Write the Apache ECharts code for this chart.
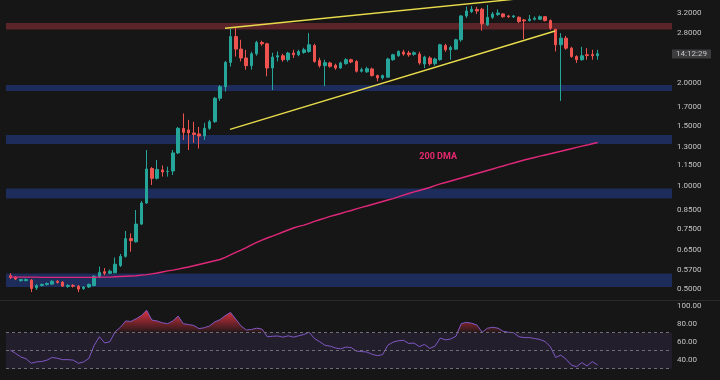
<!DOCTYPE html>
<html><head><meta charset="utf-8">
<script src="https://cdn.jsdelivr.net/npm/echarts@6/dist/echarts.min.js"></script>
<style>html,body{margin:0;padding:0;background:#161616;}#c{width:720px;height:380px;}</style>
</head><body><div id="c"></div>
<script>
// ---- Data (daily candles, log price scale) ----
const opens = [
0.547,0.542,0.529,0.529,0.531,0.504,0.512,0.516,0.517,0.527,
0.524,0.509,0.512,0.510,0.502,0.507,0.512,0.544,0.562,0.556,
0.558,0.586,0.623,0.702,0.687,0.774,0.892,1.125,1.053,1.114,
1.101,1.106,1.249,1.472,1.458,1.429,1.419,1.400,1.474,1.541,
1.804,1.949,2.296,2.732,2.511,2.365,2.246,2.433,2.625,2.602,
2.211,2.380,2.401,2.338,2.445,2.417,2.455,2.471,2.573,2.327,
2.246,2.287,2.251,2.211,2.276,2.338,2.311,2.164,2.155,2.197,
2.101,2.069,2.078,2.338,2.401,2.461,2.445,2.425,2.428,2.272,
2.365,2.276,2.338,2.573,2.499,2.510,2.673,3.138,3.230,3.278,
3.283,2.955,3.110,3.169,3.180,3.138,3.118,3.110,3.055,3.041,
3.069,3.069,3.122,3.041,2.870,2.585,2.703,2.527,2.389,2.338,
2.417,2.422,2.401];
const closes = [
0.540,0.535,0.533,0.533,0.502,0.512,0.516,0.519,0.527,0.523,
0.510,0.512,0.510,0.500,0.507,0.516,0.545,0.560,0.556,0.564,
0.591,0.623,0.702,0.692,0.774,0.892,1.121,1.053,1.118,1.099,
1.104,1.249,1.474,1.433,1.429,1.414,1.400,1.474,1.541,1.804,
1.949,2.296,2.732,2.511,2.365,2.246,2.433,2.625,2.602,2.211,
2.380,2.401,2.338,2.445,2.417,2.471,2.499,2.585,2.311,2.246,
2.292,2.236,2.211,2.287,2.338,2.302,2.164,2.186,2.201,2.101,
2.069,2.101,2.349,2.417,2.471,2.428,2.417,2.450,2.287,2.380,
2.276,2.349,2.585,2.499,2.538,2.673,3.138,3.245,3.283,3.245,
2.975,3.110,3.180,3.200,3.122,3.122,3.138,3.020,3.035,3.069,
3.090,3.122,3.041,2.890,2.585,2.703,2.527,2.389,2.338,2.401,
2.406,2.401,2.433];
const lows = [
0.535,0.531,0.526,0.527,0.490,0.497,0.509,0.512,0.514,0.519,
0.507,0.504,0.505,0.490,0.497,0.504,0.509,0.538,0.549,0.553,
0.556,0.580,0.618,0.643,0.684,0.769,0.886,1.007,1.045,1.065,
1.065,1.077,1.240,1.363,1.274,1.336,1.287,1.363,1.458,1.529,
1.772,1.887,2.233,2.389,2.311,2.186,2.186,2.401,2.568,2.091,
1.907,2.311,2.307,2.307,2.365,2.393,2.433,2.450,2.291,2.216,
1.959,2.216,2.186,2.201,2.261,2.284,2.146,2.146,2.139,2.087,
2.021,2.045,2.073,2.322,2.385,2.401,2.385,2.401,2.261,2.211,
2.246,2.246,2.322,2.466,2.338,2.499,2.637,3.097,3.200,3.180,
2.843,2.935,3.076,3.138,3.097,3.097,3.097,2.994,2.685,3.024,
3.045,3.055,3.024,2.857,2.471,1.772,2.499,2.369,2.287,2.322,
2.338,2.338,2.338];
const highs = [
0.556,0.545,0.535,0.537,0.535,0.517,0.519,0.523,0.531,0.531,
0.527,0.517,0.517,0.514,0.510,0.519,0.549,0.582,0.576,0.570,
0.618,0.633,0.739,0.727,0.851,0.904,1.274,1.136,1.191,1.148,
1.139,1.274,1.487,1.629,1.560,1.539,1.487,1.529,1.560,1.820,
1.972,2.319,2.875,2.889,2.673,2.499,2.466,2.655,2.655,2.620,
2.450,2.471,2.433,2.466,2.499,2.499,2.533,2.795,2.602,2.369,
2.338,2.307,2.276,2.307,2.362,2.354,2.330,2.216,2.231,2.216,
2.115,2.115,2.369,2.433,2.491,2.499,2.482,2.474,2.466,2.401,
2.393,2.369,2.602,2.602,2.568,2.691,3.159,3.341,3.355,3.334,
3.312,3.378,3.223,3.278,3.200,3.159,3.159,3.128,3.076,3.159,
3.128,3.148,3.138,3.065,2.875,2.795,2.745,2.550,2.409,2.550,
2.527,2.499,2.499];
const dma200 = [
0.542,0.542,0.542,0.542,0.542,0.542,0.541,0.541,0.541,0.541,
0.541,0.541,0.541,0.541,0.541,0.541,0.541,0.542,0.542,0.542,
0.543,0.544,0.545,0.546,0.547,0.549,0.551,0.554,0.557,0.561,
0.565,0.568,0.572,0.576,0.580,0.585,0.590,0.595,0.600,0.605,
0.610,0.619,0.629,0.640,0.650,0.661,0.673,0.684,0.695,0.705,
0.714,0.724,0.734,0.744,0.754,0.762,0.769,0.778,0.788,0.797,
0.806,0.815,0.823,0.831,0.840,0.848,0.857,0.866,0.874,0.883,
0.892,0.901,0.910,0.919,0.929,0.940,0.951,0.961,0.970,0.980,
0.990,1.002,1.014,1.024,1.034,1.045,1.055,1.066,1.077,1.088,
1.099,1.110,1.121,1.133,1.144,1.156,1.167,1.179,1.191,1.201,
1.211,1.222,1.232,1.242,1.253,1.263,1.274,1.285,1.296,1.307,
1.317,1.329,1.340];
const rsi = [
50.5,47,43,41,36,37.5,38,39.5,42.5,41.5,
40,40,39.5,36,37.5,41.5,56,65.5,58.5,60,
71,76,83,82.5,85.5,89,95,84,83,81,
80,83,88.5,80,79,78,74.5,75.5,77.5,82,
84.5,89,92.5,85,77.5,73,73.5,75,74,65.5,
66,66.3,65,66.5,65,66.5,68,70.5,63.5,60,
56,55,53,52,54,53.5,49.5,49,48.5,46,
44.5,45.5,56,59.5,61,61.5,58,58.5,54.5,57,
52.5,55,64,62,63,66,80,81.5,80.5,78.5,
70.5,75,76,75,71.5,70.5,70,65.5,64.5,64.5,
63.5,62.5,60,54.5,42.5,45,40.5,34,32.2,36.7,
33,37.8,34.1];
const priceTicks = [3.2, 2.8, 2.0, 1.7, 1.5, 1.3, 1.15, 1.0, 0.85, 0.75, 0.65, 0.57, 0.5];
const rsiTicks = [40, 60, 80, 100];
const rsiLevels = [70, 50, 30];
const redZones = [[2.865, 2.99]];
const blueZones = [[1.894, 1.972], [1.326, 1.41], [0.919, 0.983], [0.507, 0.555]];
const upperTrend = [[40.95, 2.888], [100, 3.56]];
const lowerTrend = [[41.9, 1.464], [103.9, 2.836]];
const dmaLabelPoint = [81.6, 1.215];
const dmaLabel = '200 DMA';
const countdown = '14:12:29';

// ---- Layout / style ----
const UP = '#26a69a', DOWN = '#ef5350';
const GL = 6, GR = 48, PRICE_H = 300, RSI_TOP = 301;
const XMIN = -0.82, XMAX = 126.2;
const FONT = 'Roboto, "Liberation Sans", sans-serif';

const candleData = opens.map((o, i) => [i, o, closes[i], lows[i], highs[i]]);
const zoneAreas = redZones.map(z => [{ yAxis: z[0], itemStyle: { color: '#5a2428' } }, { yAxis: z[1] }])
  .concat(blueZones.map(z => [{ yAxis: z[0], itemStyle: { color: '#1d2c5a' } }, { yAxis: z[1] }]));

const chart = echarts.init(document.getElementById('c'), null, { renderer: 'canvas' });
chart.setOption({
  animation: false,
  backgroundColor: '#161616',
  textStyle: { fontFamily: FONT },
  grid: [
    { left: GL, right: GR, top: 0, height: PRICE_H, outerBoundsMode: 'none' },
    { left: GL, right: GR, top: RSI_TOP, bottom: 0, outerBoundsMode: 'none' }
  ],
  xAxis: [
    { type: 'value', gridIndex: 0, min: XMIN, max: XMAX, show: false },
    { type: 'value', gridIndex: 1, min: XMIN, max: XMAX, show: false }
  ],
  yAxis: [
    { type: 'log', gridIndex: 0, position: 'right', min: 0.4646, max: 3.493,
      axisLine: { show: false }, axisTick: { show: false }, splitLine: { show: false },
      axisLabel: { customValues: priceTicks, formatter: v => Number(v).toFixed(4),
        color: '#c4c4c4', fontSize: 8, margin: 5 } },
    { type: 'value', gridIndex: 1, position: 'right', min: 17.4, max: 105.2,
      axisLine: { show: false }, axisTick: { show: false }, splitLine: { show: false },
      axisLabel: { customValues: rsiTicks, formatter: v => Number(v).toFixed(2),
        color: '#c4c4c4', fontSize: 8, margin: 5 } }
  ],
  series: [
    { type: 'candlestick', xAxisIndex: 0, yAxisIndex: 0, z: 3,
      data: candleData, encode: { x: 0, y: [1, 2, 3, 4] }, barWidth: 3,
      itemStyle: { color: UP, color0: DOWN, borderColor: UP, borderColor0: DOWN, borderWidth: 1 },
      markArea: { silent: true, data: zoneAreas } },
    { type: 'line', xAxisIndex: 0, yAxisIndex: 0, z: 4, showSymbol: false, silent: true,
      data: dma200.map((v, i) => [i, v]), lineStyle: { color: '#e0287a', width: 1.4 },
      markPoint: { silent: true, symbolSize: 0, data: [{ coord: dmaLabelPoint }],
        label: { show: true, position: 'inside', formatter: dmaLabel, color: '#e8286e',
          fontSize: 9, fontWeight: 'bold' } } },
    { type: 'line', xAxisIndex: 0, yAxisIndex: 0, z: 5, showSymbol: false, silent: true,
      data: upperTrend, lineStyle: { color: '#e9dc4c', width: 1.4 } },
    { type: 'line', xAxisIndex: 0, yAxisIndex: 0, z: 5, showSymbol: false, silent: true,
      data: lowerTrend, lineStyle: { color: '#e9dc4c', width: 1.4 } },
    { type: 'line', xAxisIndex: 1, yAxisIndex: 1, z: 2, showSymbol: false, silent: true,
      data: rsi.map((v, i) => [i, Math.max(v, rsiLevels[0])]),
      lineStyle: { width: 0, opacity: 0 },
      areaStyle: { origin: rsiLevels[0], opacity: 1, color: new echarts.graphic.LinearGradient(0, 0, 0, 1, [
        { offset: 0, color: 'rgba(242,54,69,0.9)' }, { offset: 1, color: 'rgba(242,54,69,0.06)' }]) } },
    { type: 'line', xAxisIndex: 1, yAxisIndex: 1, z: 4, showSymbol: false, silent: true,
      data: rsi.map((v, i) => [i, v]), lineStyle: { color: '#7e57c2', width: 1 },
      markArea: { silent: true, itemStyle: { color: 'rgba(126,87,194,0.13)' },
        data: [[{ yAxis: rsiLevels[2] }, { yAxis: rsiLevels[0] }]] },
      markLine: { silent: true, symbol: 'none', label: { show: false },
        lineStyle: { color: '#6f6f78', type: [3, 3], width: 1 },
        data: rsiLevels.map(v => ({ yAxis: v })) } }
  ]
});

const p = chart.convertToPixel({ xAxisIndex: 0, yAxisIndex: 0 }, [closes.length - 1, closes[closes.length - 1]]);
chart.setOption({
  graphic: [
    { type: 'line', silent: true, shape: { x1: 0, y1: PRICE_H + 0.5, x2: 720, y2: PRICE_H + 0.5 },
      style: { stroke: '#2a2a2a', lineWidth: 1 } },
    { type: 'group', x: 720 - GR, y: Math.round(p[1]) - 4.5, children: [
      { type: 'rect', shape: { x: 0, y: 0, width: 39, height: 9 }, style: { fill: '#3c3c3f' } },
      { type: 'text', x: 19.5, y: 4.5, style: { text: countdown, fill: '#c8c8c8',
        font: '8px ' + FONT, align: 'center', verticalAlign: 'middle' } }
    ] }
  ]
});
</script>
</body></html>
